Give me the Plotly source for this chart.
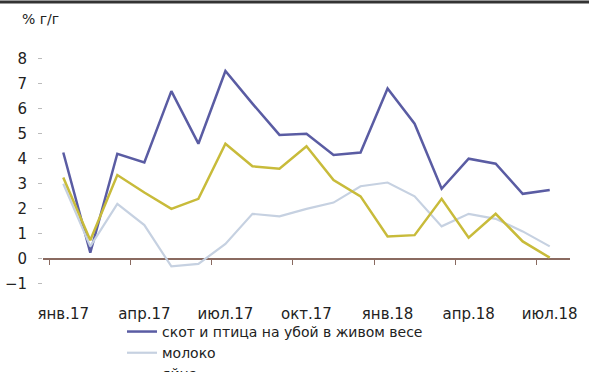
import plotly.graph_objects as go

# Monthly year-on-year growth, Jan 2017 – Jul 2018
months = ["янв.17", "фев.17", "мар.17", "апр.17", "май.17", "июн.17", "июл.17",
          "авг.17", "сен.17", "окт.17", "ноя.17", "дек.17", "янв.18", "фев.18",
          "мар.18", "апр.18", "май.18", "июн.18", "июл.18"]

livestock = [4.25, 0.25, 4.2, 3.85, 6.7, 4.6, 7.5, 6.2, 4.95, 5.0, 4.15, 4.25,
             6.8, 5.4, 2.8, 4.0, 3.8, 2.6, 2.75]
milk = [3.0, 0.5, 2.2, 1.35, -0.3, -0.2, 0.6, 1.8, 1.7, 2.0, 2.25, 2.9,
        3.05, 2.5, 1.3, 1.8, 1.6, 1.1, 0.5]
eggs = [3.25, 0.75, 3.35, 2.65, 2.0, 2.4, 4.6, 3.7, 3.6, 4.5, 3.15, 2.5,
        0.9, 0.95, 2.4, 0.85, 1.8, 0.7, 0.05]

series_names = ["скот и птица на убой в живом весе", "молоко", "яйца"]
y_ticks = [-1, 0, 1, 2, 3, 4, 5, 6, 7, 8]

x = list(range(len(months)))
label_idx = [i for i in x if i % 3 == 0]
label_txt = [months[i] for i in label_idx]
boundary_ticks = [i - 0.5 for i in label_idx]

Y_MIN, Y_MAX = -1.2, 8.3
M_L, M_R, M_T, M_B = 43, 19, 50.5, 83
W, H = 589, 372
plot_w = W - M_L - M_R
plot_h = H - M_T - M_B

fig = go.Figure()
fig.add_trace(go.Scatter(x=x, y=livestock, name=series_names[0], mode="lines",
                         line=dict(color="#5a5ca3", width=2.5)))
fig.add_trace(go.Scatter(x=x, y=milk, name=series_names[1], mode="lines",
                         line=dict(color="#c6d1e1", width=2.2)))
fig.add_trace(go.Scatter(x=x, y=eggs, name=series_names[2], mode="lines",
                         line=dict(color="#c8bb3a", width=2.5)))

font_family = "DejaVu Sans"

fig.update_layout(
    width=W, height=H,
    margin=dict(l=M_L, r=M_R, t=M_T, b=M_B, pad=0, autoexpand=False),
    paper_bgcolor="white", plot_bgcolor="white",
    font=dict(family=font_family, size=14, color="#222222"),
    showlegend=True,
    legend=dict(
        orientation="v", xref="paper", yref="paper",
        x=(122 - M_L) / plot_w, y=-(316 - (H - M_B)) / plot_h,
        xanchor="left", yanchor="top",
        font=dict(size=14, color="#222222"),
        bgcolor="rgba(0,0,0,0)", tracegroupgap=0,
    ),
    xaxis=dict(
        range=[-0.75, len(months) - 0.25],
        tickmode="array", tickvals=label_idx, ticktext=label_txt,
        tickangle=0, automargin=False,
        showgrid=False, zeroline=False, showline=False, ticks="",
        ticklabelstandoff=14, tickfont=dict(size=15),
    ),
    xaxis2=dict(
        matches="x", overlaying="x", anchor="free",
        position=(0 - Y_MIN) / (Y_MAX - Y_MIN),
        tickmode="array", tickvals=boundary_ticks, showticklabels=False,
        ticks="outside", ticklen=5, tickwidth=1, tickcolor="#8a6a60",
        showline=True, linecolor="#8a6a60", linewidth=2,
        showgrid=False, zeroline=False, layer="below traces",
    ),
    yaxis=dict(
        range=[Y_MIN, Y_MAX], tickmode="array", tickvals=y_ticks,
        showgrid=False, zeroline=False, showline=False, automargin=False,
        ticks="outside", ticklen=4, tickcolor="#bbbbbb",
        ticklabelstandoff=8, tickfont=dict(size=15),
    ),
    annotations=[dict(
        text="% г/г", xref="paper", yref="paper",
        x=(20 - M_L) / plot_w, y=1 + (M_T - 18) / plot_h,
        xanchor="left", yanchor="middle",
        showarrow=False, font=dict(size=14, color="#222222"),
    )],
    shapes=[dict(
        type="line", xref="paper", yref="paper",
        x0=-0.1, x1=1.1, y0=1 + (M_T - 1.5) / plot_h, y1=1 + (M_T - 1.5) / plot_h,
        line=dict(color="#333333", width=3),
    )],
)

# empty trace on the overlay axis so its line and ticks are rendered
fig.add_trace(go.Scatter(x=[None], y=[None], xaxis="x2", showlegend=False,
                         hoverinfo="skip"))

fig.write_html("out.html")
